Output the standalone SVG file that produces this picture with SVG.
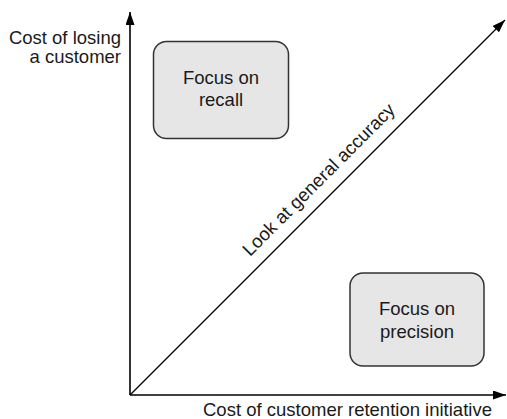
<svg xmlns="http://www.w3.org/2000/svg" width="507" height="419" viewBox="0 0 507 419">
<style>
text{font-family:"Liberation Sans",Arial,sans-serif;font-size:18.5px;fill:#1a1a1a}
.box{fill:#e6e6e6;stroke:#333;stroke-width:1.5}
.ax{stroke:#000;stroke-width:1.6;fill:none}
.diag{stroke:#000;stroke-width:1.3;fill:none}
</style>
<defs>
<marker id="ah" markerUnits="userSpaceOnUse" markerWidth="14" markerHeight="10" refX="13" refY="4.5" orient="auto" viewBox="0 0 14 10">
<path d="M0,0 L13,4.5 L0,9 z" fill="#000"/>
</marker>
</defs>
<rect width="507" height="419" fill="#fff"/>
<g id="connectors">
<line class="ax" x1="130" y1="395" x2="130" y2="12" marker-end="url(#ah)"/>
<line class="ax" x1="130" y1="395" x2="506" y2="395" marker-end="url(#ah)"/>
<line class="diag" x1="130" y1="395" x2="505" y2="20" marker-end="url(#ah)"/>
</g>
<g id="y-label">
<text x="121" y="44" text-anchor="end">Cost of losing</text>
<text x="121" y="63" text-anchor="end">a customer</text>
</g>
<g id="x-label">
<text x="203" y="416">Cost of customer retention initiative</text>
</g>
<g id="recall">
<rect class="box" x="153.5" y="41.5" width="135" height="97" rx="13"/>
<text x="221" y="83.5" text-anchor="middle">Focus on</text>
<text x="221" y="106" text-anchor="middle">recall</text>
</g>
<g id="precision">
<rect class="box" x="350" y="273" width="134" height="93" rx="13"/>
<text x="417" y="315" text-anchor="middle">Focus on</text>
<text x="417" y="338" text-anchor="middle">precision</text>
</g>
<g id="diag-label">
<text transform="translate(323,184) rotate(-45)" text-anchor="middle">Look at general accuracy</text>
</g>
</svg>
